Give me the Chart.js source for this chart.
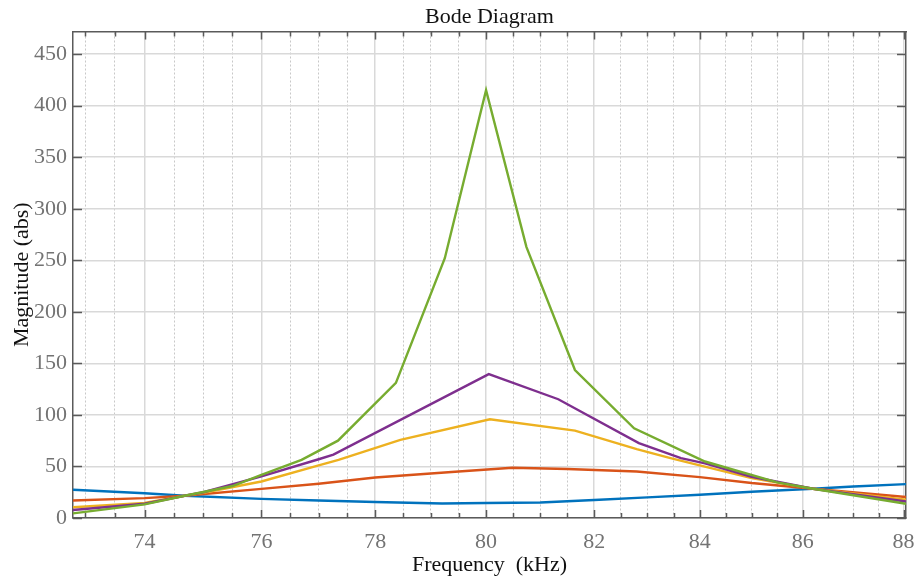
<!DOCTYPE html>
<html>
<head>
<meta charset="utf-8">
<title>Bode Diagram</title>
<script src="https://cdn.jsdelivr.net/npm/chart.js@4.4.1/dist/chart.umd.min.js"></script>
<style>
  html, body { margin: 0; padding: 0; background: #fff; }
</style>
</head>
<body>
<canvas id="bode" width="919" height="583"></canvas>
<script>
// Values (frequency in kHz, magnitude in abs)
const blueFreq = [72.8, 74, 74.68, 76, 77, 78, 79.2, 80, 81, 82, 83, 84, 85, 86.2, 87, 88.05];
const blueMag = [27.4, 24, 21.6, 18.6, 17, 15.5, 14, 14.5, 15, 17.5, 20, 22.5, 25.5, 28.4, 30.5, 32.9];

const orangeFreq = [72.8, 74, 74.68, 76, 77, 78, 79.5, 80.48, 81.5, 82.8, 84, 85, 86.2, 88.05];
const orangeMag = [17, 19.3, 21.6, 28.2, 33.2, 39.3, 45.1, 48.7, 47.5, 45.1, 39.7, 33.9, 28.4, 20.3];

const yellowFreq = [72.8, 74, 74.68, 75, 76, 77, 77.35, 78.45, 80.07, 81.64, 82.8, 83.44, 84, 85, 86.2, 88.05];
const yellowMag = [10.4, 14.5, 21.6, 24.5, 35.4, 51, 56.4, 75.8, 95.8, 84.8, 66.8, 58, 51, 38.7, 28.4, 17.7];

const purpleFreq = [72.8, 74, 74.68, 75, 76, 77, 77.26, 80.05, 81.33, 82.84, 83.64, 84.1, 85, 86.2, 88.05];
const purpleMag = [7.8, 13.8, 21.6, 25, 40.3, 57, 61.5, 139.6, 115.2, 72.6, 58, 53, 40, 28.4, 16];

const greenFreq = [72.8, 74, 74.68, 75, 75.5, 76, 76.7, 77.34, 78.37, 79.25, 80, 80.74, 81.64, 82.75, 84.1, 85.5, 86.2, 88.05];
const greenMag = [4.5, 13.2, 21.6, 25.2, 31, 41.9, 56.4, 75, 131, 252, 415, 263, 143.5, 87, 54.8, 34.5, 28.4, 13.8];

// axis ticks
const xMajorTicks = [74, 76, 78, 80, 82, 84, 86, 88];
const xMinorTicks = [73, 73.5, 74.5, 75, 75.5, 76.5, 77, 77.5, 78.5, 79, 79.5, 80.5, 81, 81.5,
  82.5, 83, 83.5, 84.5, 85, 85.5, 86.5, 87, 87.5];
const yTicks = [0, 50, 100, 150, 200, 250, 300, 350, 400, 450];

const FONT = "'Liberation Serif', 'Times New Roman', serif";
const AXIS_COLOR = "#5a5a5a";
const TICK_TEXT = "#737373";
const GRID_COLOR = "#d9d9d9";

Chart.defaults.font.family = FONT;

function toPoints(xs, ys) {
  return xs.map((x, i) => ({ x: x, y: ys[i] }));
}

const series = [
  { freq: blueFreq, mag: blueMag, color: "#0072BD" },
  { freq: orangeFreq, mag: orangeMag, color: "#D95319" },
  { freq: yellowFreq, mag: yellowMag, color: "#EDB120" },
  { freq: purpleFreq, mag: purpleMag, color: "#7E2F8E" },
  { freq: greenFreq, mag: greenMag, color: "#77AC30" },
];

// MATLAB style ticks pointing into the plot, on all four sides
const inwardTicks = {
  id: "inwardTicks",
  afterDraw(chart) {
    const { ctx, chartArea: a } = chart;
    const { x, xMinor, y } = chart.scales;
    ctx.save();
    ctx.strokeStyle = AXIS_COLOR;
    ctx.lineWidth = 1.5;
    ctx.beginPath();
    const vert = (scale, len) => {
      scale.ticks.forEach((t) => {
        const px = Math.round(scale.getPixelForValue(t.value)) + 0.5;
        ctx.moveTo(px, a.bottom);
        ctx.lineTo(px, a.bottom - len);
        ctx.moveTo(px, a.top);
        ctx.lineTo(px, a.top + len);
      });
    };
    vert(x, 8);
    vert(xMinor, 5);
    y.ticks.forEach((t) => {
      const py = Math.round(y.getPixelForValue(t.value)) + 0.5;
      ctx.moveTo(a.left, py);
      ctx.lineTo(a.left + 9, py);
      ctx.moveTo(a.right, py);
      ctx.lineTo(a.right - 9, py);
    });
    ctx.stroke();
    ctx.restore();
  },
};

new Chart(document.getElementById("bode"), {
  type: "line",
  data: {
    datasets: series.map((s, i) => ({
      label: "Series " + (i + 1),
      data: toPoints(s.freq, s.mag),
      borderColor: s.color,
      backgroundColor: s.color,
      borderWidth: 2.4,
      pointRadius: 0,
      tension: 0,
      order: series.length - i,
    })),
  },
  options: {
    responsive: false,
    animation: false,
    layout: { padding: { left: 0, right: 13, top: 0, bottom: 0 } },
    plugins: {
      legend: { display: false },
      tooltip: { enabled: false },
    },
    scales: {
      x: {
        type: "logarithmic",
        position: "bottom",
        min: 72.8,
        max: 88.05,
        bounds: "data",
        afterBuildTicks: (s) => { s.ticks = xMajorTicks.map((v) => ({ value: v })); },
        afterFit: (s) => {
          s.height = 65;
          // keep the plot edges fixed, the end labels may overhang
          s.paddingLeft = 0;
          s.paddingRight = 0;
        },
        ticks: {
          autoSkip: false,
          maxRotation: 0,
          color: TICK_TEXT,
          font: { size: 22 },
          padding: 11,
          callback: (v) => String(v),
        },
        grid: { color: GRID_COLOR, lineWidth: 1.5, drawTicks: false },
        border: { color: AXIS_COLOR, width: 1.5 },
        title: {
          display: true,
          text: "Frequency  (kHz)",
          color: "#111",
          font: { size: 22 },
          padding: { top: 0, bottom: 5 },
        },
      },
      // top axis: minor dotted grid, top frame line and the plot title
      xMinor: {
        type: "logarithmic",
        position: "top",
        min: 72.8,
        max: 88.05,
        bounds: "data",
        afterBuildTicks: (s) => { s.ticks = xMinorTicks.map((v) => ({ value: v })); },
        ticks: { display: false },
        grid: { color: "#c8c8c8", lineWidth: 1, drawTicks: false },
        border: { color: AXIS_COLOR, width: 1.5, dash: [2, 2] },
        title: {
          display: true,
          text: "Bode Diagram",
          color: "#111",
          font: { size: 22 },
          padding: { top: 4, bottom: 1 },
        },
      },
      y: {
        type: "linear",
        min: 0,
        max: 472,
        afterBuildTicks: (s) => { s.ticks = yTicks.map((v) => ({ value: v })); },
        afterFit: (s) => { s.width = 73; },
        ticks: {
          color: TICK_TEXT,
          font: { size: 22 },
          padding: 6,
        },
        grid: { color: GRID_COLOR, lineWidth: 1.5, drawTicks: false },
        border: { color: AXIS_COLOR, width: 1.5 },
        title: {
          display: true,
          text: "Magnitude (abs)",
          color: "#111",
          font: { size: 22 },
          padding: { top: 9, bottom: 0 },
        },
      },
      yRight: {
        type: "linear",
        position: "right",
        min: 0,
        max: 472,
        ticks: { display: false },
        grid: { drawOnChartArea: false, drawTicks: false },
        border: { color: AXIS_COLOR, width: 1.5 },
      },
    },
  },
  plugins: [inwardTicks],
});
</script>
</body>
</html>
